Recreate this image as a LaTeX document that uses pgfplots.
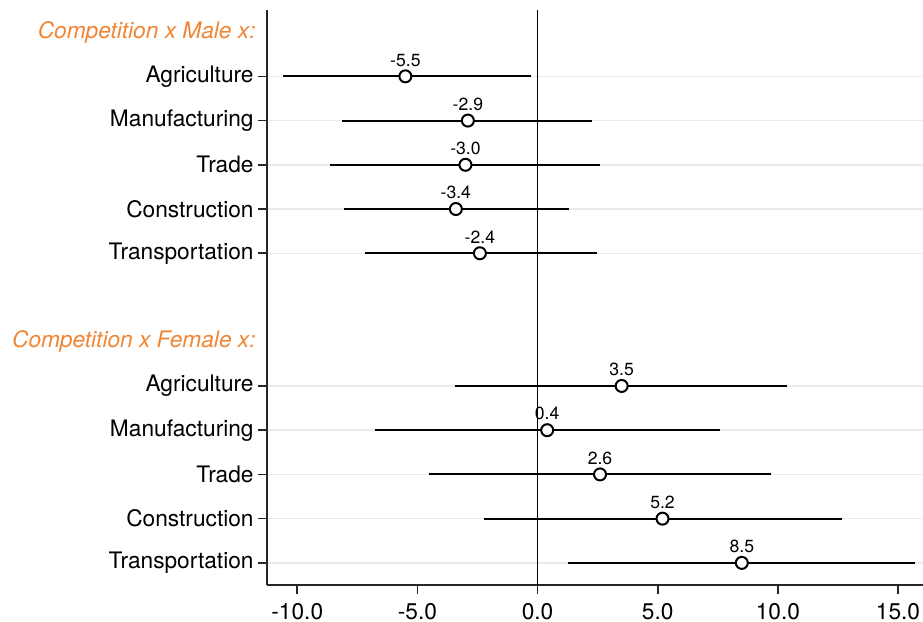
\documentclass[border=0pt]{standalone}
\usepackage{fontspec}
\setmainfont{TeX Gyre Heros}
\usepackage{pgfplots}
\usepackage{pgfplotstable}
\pgfplotsset{compat=1.18}

\definecolor{hdrorange}{RGB}{240,133,52}
\definecolor{gridgray}{RGB}{234,234,234}

% y position, point estimate, lower and upper bound of the interval
\pgfplotstableread{
row est lo hi
11 -5.5 -10.61 -0.29
10 -2.9 -8.13 2.25
9 -3.0 -8.62 2.61
8 -3.4 -8.07 1.29
7 -2.4 -7.17 2.46
}\maletab
\pgfplotstableread{
row est lo hi
4 3.5 -3.42 10.36
3 0.4 -6.78 7.59
2 2.6 -4.53 9.71
1 5.2 -2.21 12.68
0 8.5 1.27 15.70
}\femaletab

\newcommand{\lblfont}{\fontsize{11.35}{13}\selectfont}

\begin{document}
\begin{tikzpicture}
\begin{axis}[
  at={(0,0)}, anchor=south west,
  scale only axis, width=328pt, height=287.5pt,
  xmin=-11.26, xmax=16.04, ymin=-0.5, ymax=12.5,
  axis x line=bottom, axis y line=left,
  axis line style={-, line width=0.8pt, black!85},
  tick align=outside, major tick length=4.5pt,
  tick style={line width=0.8pt, black!85},
  xtick={-10,-5,0,5,10,15},
  ytick={0,1,2,3,4,7,8,9,10,11},
  yticklabels={Transportation,Construction,Trade,Manufacturing,Agriculture,
               Transportation,Construction,Trade,Manufacturing,Agriculture},
  ymajorgrids, grid style={gridgray, line width=0.75pt},
  tick label style={font=\lblfont},
  yticklabel style={inner sep=0pt, xshift=-2pt},
  xticklabel style={inner sep=0pt, yshift=-4.3pt,
    /pgf/number format/.cd, fixed, fixed zerofill, precision=1, assume math mode=true},
  clip=false,
  nodes near coords,
  point meta=x,
  nodes near coords style={font=\fontsize{8.8}{10}\selectfont, anchor=south,
    inner sep=0pt, yshift=4.5pt, text=black,
    /pgf/number format/.cd, fixed, fixed zerofill, precision=1, assume math mode=true},
]
% reference line at zero
\addplot[black, line width=0.7pt, mark=none, nodes near coords={}] coordinates {(0,-0.5) (0,12.5)};

\addplot[only marks, mark=*, mark size=3pt,
  mark options={draw=black, fill=white, line width=1pt},
  error bars/.cd, x dir=both, x explicit, error mark=none,
  error bar style={line width=1.05pt, black}]
  table[x=est, y=row,
        x error plus expr=\thisrow{hi}-\thisrow{est},
        x error minus expr=\thisrow{est}-\thisrow{lo}] {\maletab};

\addplot[only marks, mark=*, mark size=3pt,
  mark options={draw=black, fill=white, line width=1pt},
  error bars/.cd, x dir=both, x explicit, error mark=none,
  error bar style={line width=1.05pt, black}]
  table[x=est, y=row,
        x error plus expr=\thisrow{hi}-\thisrow{est},
        x error minus expr=\thisrow{est}-\thisrow{lo}] {\femaletab};

\node[anchor=east, inner sep=0pt, font=\lblfont\itshape, text=hdrorange]
  at ([xshift=-5.5pt]axis cs:-11.26,12) {Competition x Male x:};
\node[anchor=east, inner sep=0pt, font=\lblfont\itshape, text=hdrorange]
  at ([xshift=-5.5pt]axis cs:-11.26,5) {Competition x Female x:};
\end{axis}
\pgfresetboundingbox
\path (-133.5pt,-18.5pt) rectangle (328pt,292.5pt);
\end{tikzpicture}
\end{document}
